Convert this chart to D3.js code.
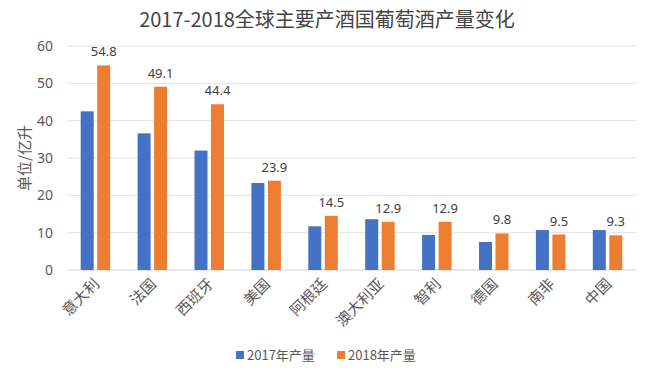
<!DOCTYPE html>
<html><head><meta charset="utf-8">
<script src="https://cdn.jsdelivr.net/npm/d3@7"></script>
<style>
html,body{margin:0;padding:0;background:#fff;}
svg{display:block;}
text{font-family:"Noto Sans CJK SC","Noto Sans",sans-serif;}
</style></head>
<body>
<script>
const categories = ["意大利","法国","西班牙","美国","阿根廷","澳大利亚","智利","德国","南非","中国"];
const values2017 = [42.5, 36.6, 32.0, 23.3, 11.7, 13.6, 9.4, 7.5, 10.7, 10.7];
const values2018 = [54.8, 49.1, 44.4, 23.9, 14.5, 12.9, 12.9, 9.8, 9.5, 9.3];
const seriesNames = ["2017年产量","2018年产量"];
const yTicks = [0,10,20,30,40,50,60];
const titleText = "2017-2018全球主要产酒国葡萄酒产量变化";
const yTitle = "单位/亿升";

const W = 650, H = 368;
const colors = ["#4472C4","#ED7D31"];
const svg = d3.select("body").append("svg").attr("width",W).attr("height",H);
svg.append("rect").attr("width",W).attr("height",H).attr("fill","#fff");

const m = {left:67, right:14, top:46, bottom:98};
const x = d3.scaleBand().domain(categories).range([m.left, W-m.right]).paddingInner(0).paddingOuter(0);
const y = d3.scaleLinear().domain([0,60]).range([H-m.bottom, m.top]);
const barW = 13, gap = 3.5;

// gridlines
svg.append("g").selectAll("line").data(yTicks).join("line")
  .attr("x1", m.left).attr("x2", W-m.right)
  .attr("y1", d=>y(d)).attr("y2", d=>y(d))
  .attr("stroke", d=> d===0 ? "#d0d0d0" : "#e3e3e3").attr("stroke-width",1);

// y axis labels
const yAxis = d3.axisLeft(y).tickValues(yTicks).tickSize(0).tickPadding(14);
const gy = svg.append("g").attr("transform",`translate(${m.left},0)`).call(yAxis);
gy.select(".domain").remove();
gy.selectAll("text").attr("fill","#595959").style("font-size","14px").style("font-family","'Noto Sans','DejaVu Sans',sans-serif");

// x axis labels
const xAxis = d3.axisBottom(x).tickSize(0).tickPadding(0);
const gx = svg.append("g").attr("transform",`translate(0,${y(0)})`).call(xAxis);
gx.select(".domain").remove();
gx.selectAll("text")
  .attr("fill","#595959").style("font-size","15px")
  .attr("text-anchor","end").attr("dy",0)
  .attr("transform","translate(5,15) rotate(-45)");

// bars
const data = categories.map((c,i)=>({c, v:[values2017[i], values2018[i]]}));
const g = svg.append("g");
[0,1].forEach(s=>{
  g.selectAll(".b"+s).data(data).join("rect")
    .attr("x", d=> x(d.c) + x.bandwidth()/2 + (s===0 ? -gap/2 - barW : gap/2))
    .attr("width", barW)
    .attr("y", d=> y(d.v[s]))
    .attr("height", d=> y(0)-y(d.v[s]))
    .attr("fill", colors[s]);
});

// data labels on 2018
g.selectAll(".lbl").data(data).join("text")
  .attr("x", d=> x(d.c) + x.bandwidth()/2 + gap/2 + barW/2)
  .attr("y", d=> y(d.v[1]) - 9)
  .attr("text-anchor","middle")
  .attr("fill","#404040")
  .style("font-size","13px").style("font-family","'Noto Sans','DejaVu Sans',sans-serif")
  .text(d=> d.v[1].toFixed(1));

// title
svg.append("text").attr("x", 327).attr("y", 27).attr("text-anchor","middle")
  .attr("fill","#444").style("font-size","20px").text(titleText);

// y title
svg.append("text").attr("transform",`translate(25,${(y(0)+y(60))/2}) rotate(-90)`)
  .attr("dy","0.35em")
  .attr("text-anchor","middle").attr("fill","#595959").style("font-size","15px").text(yTitle);

// legend
const lg = svg.append("g");
const lx = [236, 337];
seriesNames.forEach((n,i)=>{
  lg.append("rect").attr("x", lx[i]).attr("y", 351).attr("width",8).attr("height",8).attr("fill",colors[i]);
  lg.append("text").attr("x", lx[i]+11).attr("y", 360).attr("fill","#595959").style("font-size","13px").text(n);
});
</script>
</body></html>
